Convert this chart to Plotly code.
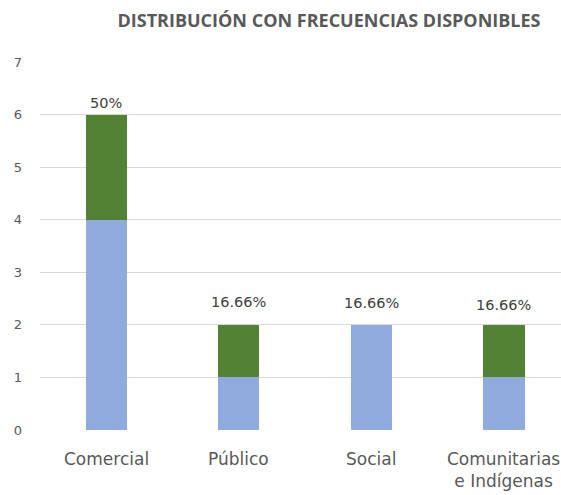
import plotly.graph_objects as go

categories = ["Comercial", "Público", "Social", "Comunitarias<br>e Indígenas"]
asignadas = [4, 1, 2, 1]
disponibles = [2, 1, 0, 1]
pct_labels = ["50%", "16.66%", "16.66%", "16.66%"]
label_offsets = [12, 23, 22, 20]
y_ticks = [0, 1, 2, 3, 4, 5, 6, 7]

totals = [a + d for a, d in zip(asignadas, disponibles)]
xs = list(range(len(categories)))

fig = go.Figure()
fig.add_trace(go.Bar(x=xs, y=asignadas, marker_color="#8FAADC", width=0.31,
                     marker_line_width=0, name="Asignadas"))
fig.add_trace(go.Bar(x=xs, y=disponibles, marker_color="#548235", width=0.31,
                     marker_line_width=0, name="Disponibles"))

for x, t, lab, off in zip(xs, totals, pct_labels, label_offsets):
    fig.add_annotation(x=x, y=t, text=lab, showarrow=False, yshift=off,
                       font=dict(family="DejaVu Sans", size=14.5, color="#404040"))

for x, c in zip(xs, categories):
    fig.add_annotation(x=x, y=0, yref="y", text=c, showarrow=False,
                       yshift=-17, yanchor="top",
                       font=dict(family="DejaVu Sans", size=17, color="#595959"),
                       align="center")

fig.update_layout(
    barmode="stack",
    width=561, height=495,
    margin=dict(l=40, r=0, t=62, b=65, autoexpand=False),
    paper_bgcolor="white", plot_bgcolor="white",
    showlegend=False,
    title=dict(text="<b>DISTRIBUCIÓN CON FRECUENCIAS DISPONIBLES</b>",
               x=329 / 561, xanchor="center", y=1 - 21 / 495, yanchor="middle",
               font=dict(family="Open Sans", size=18, color="#595959")),
    xaxis=dict(range=[-0.5, 3.43], showticklabels=False, showgrid=False,
               zeroline=False, showline=False, fixedrange=True, automargin=False),
    yaxis=dict(range=[0, 7], tickvals=y_ticks, showgrid=True, gridcolor="#D9D9D9",
               gridwidth=1, zeroline=False, showline=False, automargin=False,
               tickfont=dict(family="DejaVu Sans", size=13, color="#595959"),
               ticklabelstandoff=17),
)

fig.write_html("out.html", config={"displayModeBar": False},
               post_script="document.body.style.margin='0';document.body.style.overflow='hidden';")
